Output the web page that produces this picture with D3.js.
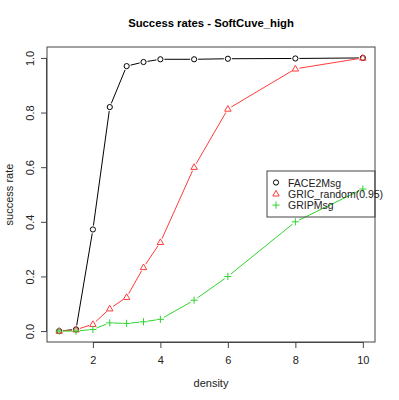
<!DOCTYPE html>
<html>
<head>
<meta charset="utf-8">
<script src="https://cdn.jsdelivr.net/npm/d3@7"></script>
<style>
  body { margin: 0; background: #fff; }
  text { font-family: "Liberation Sans", Arial, sans-serif; }
</style>
</head>
<body>
<div id="chart"></div>
<script>
const W = 399, H = 400;
const margin = { top: 47, right: 24, bottom: 58, left: 47 };

// data
const density = [1, 1.5, 2, 2.5, 3, 3.5, 4, 5, 6, 8, 10];
const face2Msg = [0, 0.006, 0.372, 0.82, 0.97, 0.985, 0.995, 0.995, 0.997, 0.998, 1.0];
const gricRandom = [0, 0.005, 0.025, 0.082, 0.124, 0.233, 0.325, 0.60, 0.813, 0.96, 1.0];
const gripMsg = [0, 0, 0.006, 0.03, 0.028, 0.034, 0.043, 0.113, 0.20, 0.40, 0.52];
const xTicks = [2, 4, 6, 8, 10];
const yTicks = [0, 0.2, 0.4, 0.6, 0.8, 1.0];

const series = [
  { name: "FACE2Msg", values: face2Msg, color: "#000000", shape: "circle" },
  { name: "GRIC_random(0.95)", values: gricRandom, color: "#ff3b3b", shape: "triangle" },
  { name: "GRIPMsg", values: gripMsg, color: "#2ed42e", shape: "plus" }
];

const svg = d3.select("#chart").append("svg")
  .attr("width", W).attr("height", H);

const x = d3.scaleLinear().domain([0.64, 10.36]).range([margin.left, W - margin.right]);
const y = d3.scaleLinear().domain([-0.04, 1.04]).range([H - margin.bottom, margin.top]);

// plot box
svg.append("rect")
  .attr("x", margin.left).attr("y", margin.top)
  .attr("width", W - margin.left - margin.right)
  .attr("height", H - margin.top - margin.bottom)
  .attr("fill", "none").attr("stroke", "#444").attr("stroke-width", 1);

// axes
const xAxis = svg.append("g")
  .attr("transform", `translate(0,${H - margin.bottom})`)
  .call(d3.axisBottom(x).tickValues(xTicks).tickFormat(d3.format("d")).tickSize(6).tickSizeOuter(0));
xAxis.select(".domain").attr("d", `M${x(2)},0.5H${x(10)}`).attr("stroke", "#444");
xAxis.selectAll("line").attr("stroke", "#444");
xAxis.selectAll("text").attr("font-size", 11).attr("fill", "#222").attr("dy", "1.2em");

const yAxis = svg.append("g")
  .attr("transform", `translate(${margin.left},0)`)
  .call(d3.axisLeft(y).tickValues(yTicks).tickFormat(d3.format(".1f")).tickSize(6).tickSizeOuter(0));
yAxis.select(".domain").attr("d", `M-0.5,${y(0)}V${y(1)}`).attr("stroke", "#444");
yAxis.selectAll("line").attr("stroke", "#444");
yAxis.selectAll(".tick text")
  .attr("font-size", 11).attr("fill", "#222")
  .attr("x", 0).attr("dy", 0)
  .attr("text-anchor", "middle")
  .attr("transform", "translate(-13,0) rotate(-90)");

// titles
svg.append("text")
  .attr("x", (margin.left + W - margin.right) / 2).attr("y", 27)
  .attr("text-anchor", "middle").attr("font-size", 11.3).attr("font-weight", "bold")
  .text("Success rates - SoftCuve_high");

svg.append("text")
  .attr("x", (margin.left + W - margin.right) / 2).attr("y", 387)
  .attr("text-anchor", "middle").attr("font-size", 11).attr("fill", "#222")
  .text("density");

svg.append("text")
  .attr("transform", `translate(13,${(margin.top + H - margin.bottom) / 2}) rotate(-90)`)
  .attr("text-anchor", "middle").attr("font-size", 11).attr("fill", "#222")
  .text("success rate");

// marker drawing
function drawMarker(g, shape, cx, cy, color) {
  if (shape === "circle") {
    g.append("circle").attr("cx", cx).attr("cy", cy).attr("r", 2.6)
      .attr("fill", "none").attr("stroke", color).attr("stroke-width", 1);
  } else if (shape === "triangle") {
    const s = 3.4;
    g.append("path")
      .attr("d", `M${cx},${cy - s}L${cx + s * 0.95},${cy + s * 0.65}L${cx - s * 0.95},${cy + s * 0.65}Z`)
      .attr("fill", "none").attr("stroke", color).attr("stroke-width", 1);
  } else {
    const s = 3.6;
    g.append("path")
      .attr("d", `M${cx - s},${cy}H${cx + s}M${cx},${cy - s}V${cy + s}`)
      .attr("fill", "none").attr("stroke", color).attr("stroke-width", 1);
  }
}

// series: lines with gaps around points (type "b")
const gap = 4;
series.forEach(s => {
  const g = svg.append("g");
  const pts = density.map((d, i) => [x(d), y(s.values[i])]);
  for (let i = 0; i < pts.length - 1; i++) {
    const [x0, y0] = pts[i], [x1, y1] = pts[i + 1];
    const len = Math.hypot(x1 - x0, y1 - y0);
    if (len <= 2 * gap) continue;
    const ux = (x1 - x0) / len, uy = (y1 - y0) / len;
    g.append("line")
      .attr("x1", x0 + ux * gap).attr("y1", y0 + uy * gap)
      .attr("x2", x1 - ux * gap).attr("y2", y1 - uy * gap)
      .attr("stroke", s.color).attr("stroke-width", 1);
  }
  pts.forEach(p => drawMarker(g, s.shape, p[0], p[1], s.color));
});

// legend (no fill, as in reference)
const lx = 267, ly = 171, lw = W - margin.right - lx, lh = 46;
svg.append("rect")
  .attr("x", lx).attr("y", ly).attr("width", lw).attr("height", lh)
  .attr("fill", "none").attr("stroke", "#444").attr("stroke-width", 1);
series.forEach((s, i) => {
  const cy = ly + 11.5 + i * 11.3;
  drawMarker(svg, s.shape, 276, cy, s.color);
  svg.append("text")
    .attr("x", 288).attr("y", cy + 4)
    .attr("font-size", 10.5).attr("fill", "#222")
    .text(s.name);
});
</script>
</body>
</html>
